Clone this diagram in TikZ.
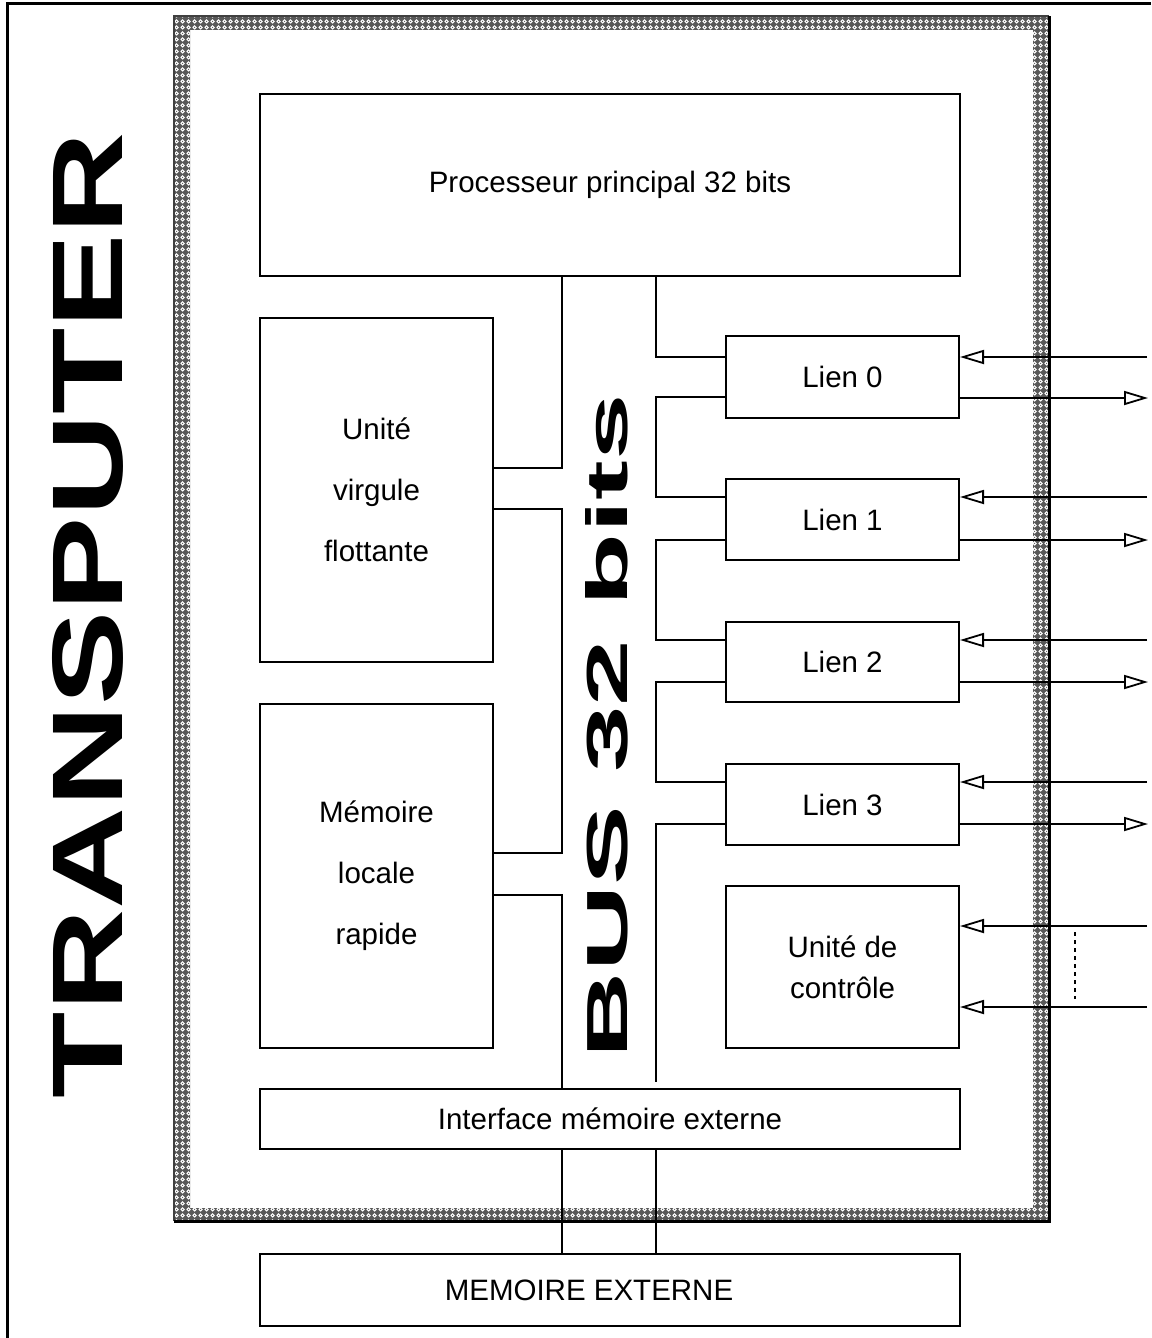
\documentclass[tikz,border=0pt]{standalone}
\usepackage{fontspec}
\setmainfont{Liberation Sans}
\usetikzlibrary{arrows.meta,patterns.meta}
\tikzdeclarepattern{
  name=ringgrid,
  type=uncolored,
  bounding box={(0pt,0pt) and (6pt,6pt)},
  tile size={(6pt,6pt)},
  code={
    \pgfsetlinewidth{1.1pt}
    \pgfpathcircle{\pgfpoint{3pt}{3pt}}{1.9pt}
    \pgfusepath{stroke}
  }
}
\tikzset{
  box/.style={draw, line width=2pt, inner sep=0pt, anchor=north west, align=center,
              font=\fontsize{29.5}{61}\selectfont},
  wire/.style={line width=2pt},
  inarr/.style={line width=2pt, -{Triangle[open, length=24pt, width=14pt, line width=1.8pt]}},
  frameedge/.style={line width=3pt},
}
\begin{document}
\begin{tikzpicture}[x=1pt, y=-1pt]
\useasboundingbox (0,0) rectangle (1151,1338);
% outer page frame
\draw[frameedge] (7.5,1338) -- (7.5,3.5) -- (1151,3.5);
% hatched frame
\fill[black!65, even odd rule] (174,16) rectangle (1049,1221) (190,30) rectangle (1033,1208);
\fill[pattern=ringgrid, pattern color=white, even odd rule] (174,16) rectangle (1049,1221) (190,30) rectangle (1033,1208);
\draw[gray!50!black, line width=1.2pt] (174,1221) -- (174,16) -- (1049,16);
\draw[frameedge] (174,1221) -- (1049,1221) -- (1049,16);

% titles
\node[rotate=90, inner sep=0pt] (title) at (88,615) {\resizebox{966pt}{70pt}{\bfseries TRANSPUTER}};
\node[rotate=90, inner sep=0pt] (bus) at (607,726) {\resizebox{664pt}{42pt}{\bfseries BUS 32 bits}};

% blocks
\node[box, minimum width=700pt, minimum height=182pt] (proc) at (259,93) {Processeur principal 32 bits};
\node[box, minimum width=233pt, minimum height=344pt] (fpu) at (259,317) {Unité\\virgule\\flottante};
\node[box, minimum width=233pt, minimum height=344pt] (mem) at (259,703) {Mémoire\\locale\\rapide};
\node[box, minimum width=700pt, minimum height=60pt] (ime) at (259,1088) {Interface mémoire externe};
\node[box, minimum width=700pt, minimum height=72pt] (mext) at (259,1253) {};
\node (mexttxt) at ([xshift=-21pt]mext.center) {\fontsize{29.5}{36}\selectfont MEMOIRE EXTERNE};
\node[box, minimum width=233pt, minimum height=82pt] (l0) at (725,335) {Lien 0};
\node[box, minimum width=233pt, minimum height=81pt] (l1) at (725,478) {Lien 1};
\node[box, minimum width=233pt, minimum height=80pt] (l2) at (725,621) {Lien 2};
\node[box, minimum width=233pt, minimum height=81pt] (l3) at (725,763) {Lien 3};
\node[box, minimum width=233pt, minimum height=162pt, font=\fontsize{29.5}{41}\selectfont] (ctl) at (725,885) {Unité de\\contrôle};

% bus wiring, left side
\draw[wire] (proc.south -| 562,0) |- (fpu.east |- 0,468);
\draw[wire] (fpu.east |- 0,509) -| (562,853) -- (mem.east |- 0,853);
\draw[wire] (mem.east |- 0,895) -| (ime.north -| 562,0);

% bus wiring, link side
\draw[wire] (proc.south -| 656,0) |- (l0.west |- 0,357);
\draw[wire] (l0.west |- 0,397) -| (656,497) -- (l1.west |- 0,497);
\draw[wire] (l1.west |- 0,540) -| (656,640) -- (l2.west |- 0,640);
\draw[wire] (l2.west |- 0,682) -| (656,782) -- (l3.west |- 0,782);
\draw[wire] (l3.west |- 0,824) -| (656,1082);

% to external memory
\draw[wire] (ime.south -| 562,0) -- (mext.north -| 562,0);
\draw[wire] (ime.south -| 656,0) -- (mext.north -| 656,0);

% external link arrows
\coordinate (e0i) at (1147,357);  \coordinate (e0o) at (1148,398);
\coordinate (e1i) at (1147,497);  \coordinate (e1o) at (1148,540);
\coordinate (e2i) at (1147,640);  \coordinate (e2o) at (1148,682);
\coordinate (e3i) at (1147,782);  \coordinate (e3o) at (1148,824);
\coordinate (eci) at (1147,926);  \coordinate (ecj) at (1147,1007);
\draw[inarr] (e0i) -- (l0.east |- e0i);
\draw[inarr] (l0.east |- e0o) -- (e0o);
\draw[inarr] (e1i) -- (l1.east |- e1i);
\draw[inarr] (l1.east |- e1o) -- (e1o);
\draw[inarr] (e2i) -- (l2.east |- e2i);
\draw[inarr] (l2.east |- e2o) -- (e2o);
\draw[inarr] (e3i) -- (l3.east |- e3i);
\draw[inarr] (l3.east |- e3o) -- (e3o);
\draw[inarr] (eci) -- (ctl.east |- eci);
\draw[inarr] (ecj) -- (ctl.east |- ecj);
\coordinate (dtop) at (1075,932);
\coordinate (dbot) at (1075,999);
\draw[line width=2pt, dash pattern=on 4pt off 4pt] (dtop) -- (dbot);
\end{tikzpicture}
\end{document}
